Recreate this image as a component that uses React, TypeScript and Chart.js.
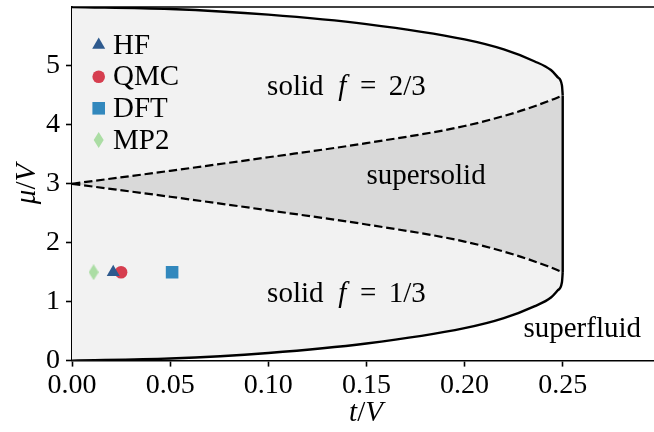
import React, { useEffect, useRef } from "react";
import { Chart, registerables } from "chart.js";

Chart.register(...registerables);

// ---- data ----
const xTicks = [0, 0.05, 0.1, 0.15, 0.2, 0.25];
const yTicks = [0, 1, 2, 3, 4, 5];

const outerT = [0, 0.05, 0.1, 0.15, 0.2, 0.22, 0.2355, 0.244, 0.2474, 0.2496, 0.25];
const outerLowerMu = [0, 0.035, 0.13, 0.29, 0.55, 0.72, 0.92, 1.07, 1.19, 1.33, 1.5];
const outerUpperMu = [6, 5.965, 5.87, 5.71, 5.45, 5.28, 5.08, 4.93, 4.81, 4.67, 4.5];

const dashT = [0, 0.05, 0.1, 0.15, 0.2, 0.225, 0.2425, 0.25];
const dashLowerMu = [3, 2.78, 2.55, 2.31, 2.02, 1.8, 1.6, 1.5];
const dashUpperMu = [3, 3.22, 3.45, 3.69, 3.98, 4.2, 4.4, 4.5];

const edgeT = [0.25, 0.25];
const edgeMu = [1.5, 4.5];

const methods = ["HF", "QMC", "DFT", "MP2"];
const methodT = [0.021, 0.025, 0.051, 0.011];
const methodMu = [1.5, 1.5, 1.5, 1.5];
const methodColors = ["#2e5a8e", "#d63e4f", "#3288bd", "#abdda4"];
const methodMarkers = ["triangle", "circle", "rect", "thinDiamond"];

const regionLabels = ["supersolid", "superfluid"];
const regionLabelT = [0.15, 0.23];
const regionLabelMu = [3.0, 0.4];
const solidFractions = ["2/3", "1/3"];
const solidLabelT = [0.1, 0.1];
const solidLabelMu = [4.5, 1.0];

const FONT = "'Liberation Serif', 'Times New Roman', serif";

const pts = (xs: number[], ys: number[]) => xs.map((x, i) => ({ x, y: ys[i] }));

function makeDiamond(color: string, w: number, h: number) {
  const c = document.createElement("canvas");
  c.width = w;
  c.height = h;
  const g = c.getContext("2d")!;
  g.fillStyle = color;
  g.beginPath();
  g.moveTo(w / 2, 0);
  g.lineTo(w, h / 2);
  g.lineTo(w / 2, h);
  g.lineTo(0, h / 2);
  g.closePath();
  g.fill();
  return c;
}

function drawMarker(ctx: CanvasRenderingContext2D, kind: string, color: string, x: number, y: number) {
  ctx.save();
  ctx.fillStyle = color;
  ctx.beginPath();
  if (kind === "triangle") {
    const r = 7.5;
    ctx.moveTo(x, y - r);
    ctx.lineTo(x + 0.866 * r, y + 0.5 * r);
    ctx.lineTo(x - 0.866 * r, y + 0.5 * r);
    ctx.closePath();
  } else if (kind === "circle") {
    ctx.arc(x, y, 6.3, 0, Math.PI * 2);
  } else if (kind === "rect") {
    ctx.rect(x - 6.3, y - 6.3, 12.6, 12.6);
  } else {
    ctx.moveTo(x, y - 8);
    ctx.lineTo(x + 5, y);
    ctx.lineTo(x, y + 8);
    ctx.lineTo(x - 5, y);
    ctx.closePath();
  }
  ctx.fill();
  ctx.restore();
}

type Piece = { s: string; it?: boolean; cx: number };

const textPlugin = {
  id: "phaseText",
  afterDatasetsDraw(chart: any) {
    const ctx: CanvasRenderingContext2D = chart.ctx;
    const xs = chart.scales.x;
    const ys = chart.scales.y;
    ctx.save();
    ctx.fillStyle = "#000";
    ctx.textBaseline = "alphabetic";
    const size = 29;
    const normal = `${size}px ${FONT}`;
    const italic = `italic ${size}px ${FONT}`;

    // solid f = n/3 labels
    solidFractions.forEach((fr, i) => {
      const x0 = xs.getPixelForValue(solidLabelT[i]);
      const y0 = ys.getPixelForValue(solidLabelMu[i]);
      const pieces: Piece[] = [
        { s: "solid", cx: 27 },
        { s: "f", it: true, cx: 74 },
        { s: "=", cx: 100 },
        { s: fr, cx: 139 },
      ];
      ctx.textAlign = "center";
      pieces.forEach((p) => {
        ctx.font = p.it ? italic : normal;
        ctx.fillText(p.s, x0 + p.cx, y0);
      });
    });

    ctx.textAlign = "left";
    ctx.font = normal;
    regionLabels.forEach((s, i) => {
      ctx.fillText(s, xs.getPixelForValue(regionLabelT[i]), ys.getPixelForValue(regionLabelMu[i]));
    });

    // legend
    const lx = 98.7;
    const tx = 113;
    const rowY = [45, 76.7, 108.3, 140];
    methods.forEach((m, i) => {
      drawMarker(ctx, methodMarkers[i], methodColors[i], lx, rowY[i]);
      ctx.font = normal;
      ctx.textAlign = "left";
      ctx.textBaseline = "middle";
      ctx.fillText(m, tx, rowY[i] + 1);
    });

    // axis titles
    ctx.textBaseline = "middle";
    const drawParts = (parts: Piece[], cx: number, cy: number) => {
      let total = 0;
      const ws = parts.map((p) => {
        ctx.font = p.it ? italic : normal;
        const w = ctx.measureText(p.s).width;
        total += w;
        return w;
      });
      let x = cx - total / 2;
      parts.forEach((p, k) => {
        ctx.font = p.it ? italic : normal;
        ctx.textAlign = "left";
        ctx.fillText(p.s, x, cy);
        x += ws[k];
      });
    };
    drawParts(
      [
        { s: "t", it: true, cx: 0 },
        { s: "/", cx: 0 },
        { s: "V", it: true, cx: 0 },
      ],
      366,
      413
    );
    ctx.save();
    ctx.translate(27, 184);
    ctx.rotate(-Math.PI / 2);
    drawParts(
      [
        { s: "μ", it: true, cx: 0 },
        { s: "/", cx: 0 },
        { s: "V", it: true, cx: 0 },
      ],
      0,
      0
    );
    ctx.restore();

    // top spine
    const a = chart.chartArea;
    ctx.strokeStyle = "#000";
    ctx.lineWidth = 1.6;
    ctx.beginPath();
    ctx.moveTo(a.left, a.top);
    ctx.lineTo(a.right, a.top);
    ctx.stroke();
    ctx.restore();
  },
};

const noPad = (s: any) => {
  s.paddingTop = 0;
  s.paddingBottom = 0;
  s.paddingLeft = 0;
  s.paddingRight = 0;
};

export default function App() {
  const ref = useRef<HTMLCanvasElement | null>(null);

  useEffect(() => {
    if (!ref.current) return;
    const styles: any[] = methodMarkers.map((m, i) =>
      m === "thinDiamond" ? makeDiamond(methodColors[i], 10, 16) : m
    );
    const radii = methodMarkers.map((m) => (m === "rect" ? 8.9 : m === "circle" ? 6.3 : m === "triangle" ? 7.5 : 8));

    const markerSets = methods.map((m, i) => ({
      type: "line" as const,
      label: m,
      data: [{ x: methodT[i], y: methodMu[i] }],
      showLine: false,
      pointStyle: styles[i],
      pointRadius: radii[i],
      pointBackgroundColor: methodColors[i],
      pointBorderWidth: 0,
      pointBorderColor: methodColors[i],
      order: 0,
    }));

    const curve = { tension: 0.4, cubicInterpolationMode: "monotone", pointRadius: 0 };

    const datasets: any[] = [
      // 0 outer lower
      {
        label: "outer lower",
        data: pts(outerT, outerLowerMu),
        borderColor: "#000",
        borderWidth: 2.4,
        ...curve,
        fill: false,
        order: 2,
      },
      // 1 outer upper (fills to 0)
      {
        label: "outer upper",
        data: pts(outerT, outerUpperMu),
        borderColor: "#000",
        borderWidth: 2.4,
        ...curve,
        fill: { target: 0 },
        backgroundColor: "#f2f2f2",
        order: 6,
      },
      // 2 dashed lower
      {
        label: "dash lower",
        data: pts(dashT, dashLowerMu),
        borderColor: "#000",
        borderWidth: 2.2,
        borderDash: [8.4, 3.8],
        ...curve,
        fill: false,
        order: 3,
      },
      // 3 dashed upper (fills to 2)
      {
        label: "dash upper",
        data: pts(dashT, dashUpperMu),
        borderColor: "#000",
        borderWidth: 2.2,
        borderDash: [8.4, 3.8],
        ...curve,
        fill: { target: 2 },
        backgroundColor: "#d9d9d9",
        order: 4,
      },
      // 4 vertical edge
      {
        label: "edge",
        data: pts(edgeT, edgeMu),
        borderColor: "#000",
        borderWidth: 2.4,
        pointRadius: 0,
        fill: false,
        order: 1,
      },
      ...markerSets,
    ];

    const tickFont = { family: FONT, size: 28 };

    const chart = new Chart(ref.current, {
      type: "line",
      data: { datasets },
      plugins: [textPlugin],
      options: {
        animation: false,
        responsive: false,
        maintainAspectRatio: false,
        layout: { autoPadding: false, padding: { top: 7, left: 0, right: 0, bottom: 0 } } as any,
        plugins: {
          legend: { display: false },
          tooltip: { enabled: false },
          filler: { drawTime: "beforeDatasetsDraw" } as any,
        },
        scales: {
          x: {
            type: "linear",
            min: 0,
            max: 0.2965,
            afterFit: (s: any) => {
              s.height = 71.4;
              noPad(s);
            },
            afterBuildTicks: (s: any) => {
              s.ticks = xTicks.map((v) => ({ value: v }));
            },
            ticks: {
              callback: (v: any) => Number(v).toFixed(2),
              font: tickFont,
              color: "#000",
              padding: 2,
              maxRotation: 0,
              autoSkip: false,
            },
            grid: {
              display: true,
              drawOnChartArea: false,
              drawTicks: true,
              tickLength: 6,
              tickWidth: 1.6,
              tickColor: "#000",
            },
            border: { display: true, color: "#000", width: 1.6 },
          },
          y: {
            type: "linear",
            min: 0,
            max: 6,
            afterFit: (s: any) => {
              s.width = 72;
              noPad(s);
            },
            afterBuildTicks: (s: any) => {
              s.ticks = yTicks.map((v) => ({ value: v }));
            },
            ticks: {
              callback: (v: any) => String(v),
              font: tickFont,
              color: "#000",
              padding: 6,
              autoSkip: false,
            },
            grid: {
              display: true,
              drawOnChartArea: false,
              drawTicks: true,
              tickLength: 6,
              tickWidth: 1.6,
              tickColor: "#000",
            },
            border: { display: true, color: "#000", width: 1.6 },
          },
        },
      },
    });
    return () => chart.destroy();
  }, []);

  return (
    <div style={{ position: "absolute", left: 0, top: 0, width: 654, height: 432, background: "#fff" }}>
      <canvas ref={ref} width={654} height={432} style={{ width: 654, height: 432, display: "block" }} />
    </div>
  );
}
